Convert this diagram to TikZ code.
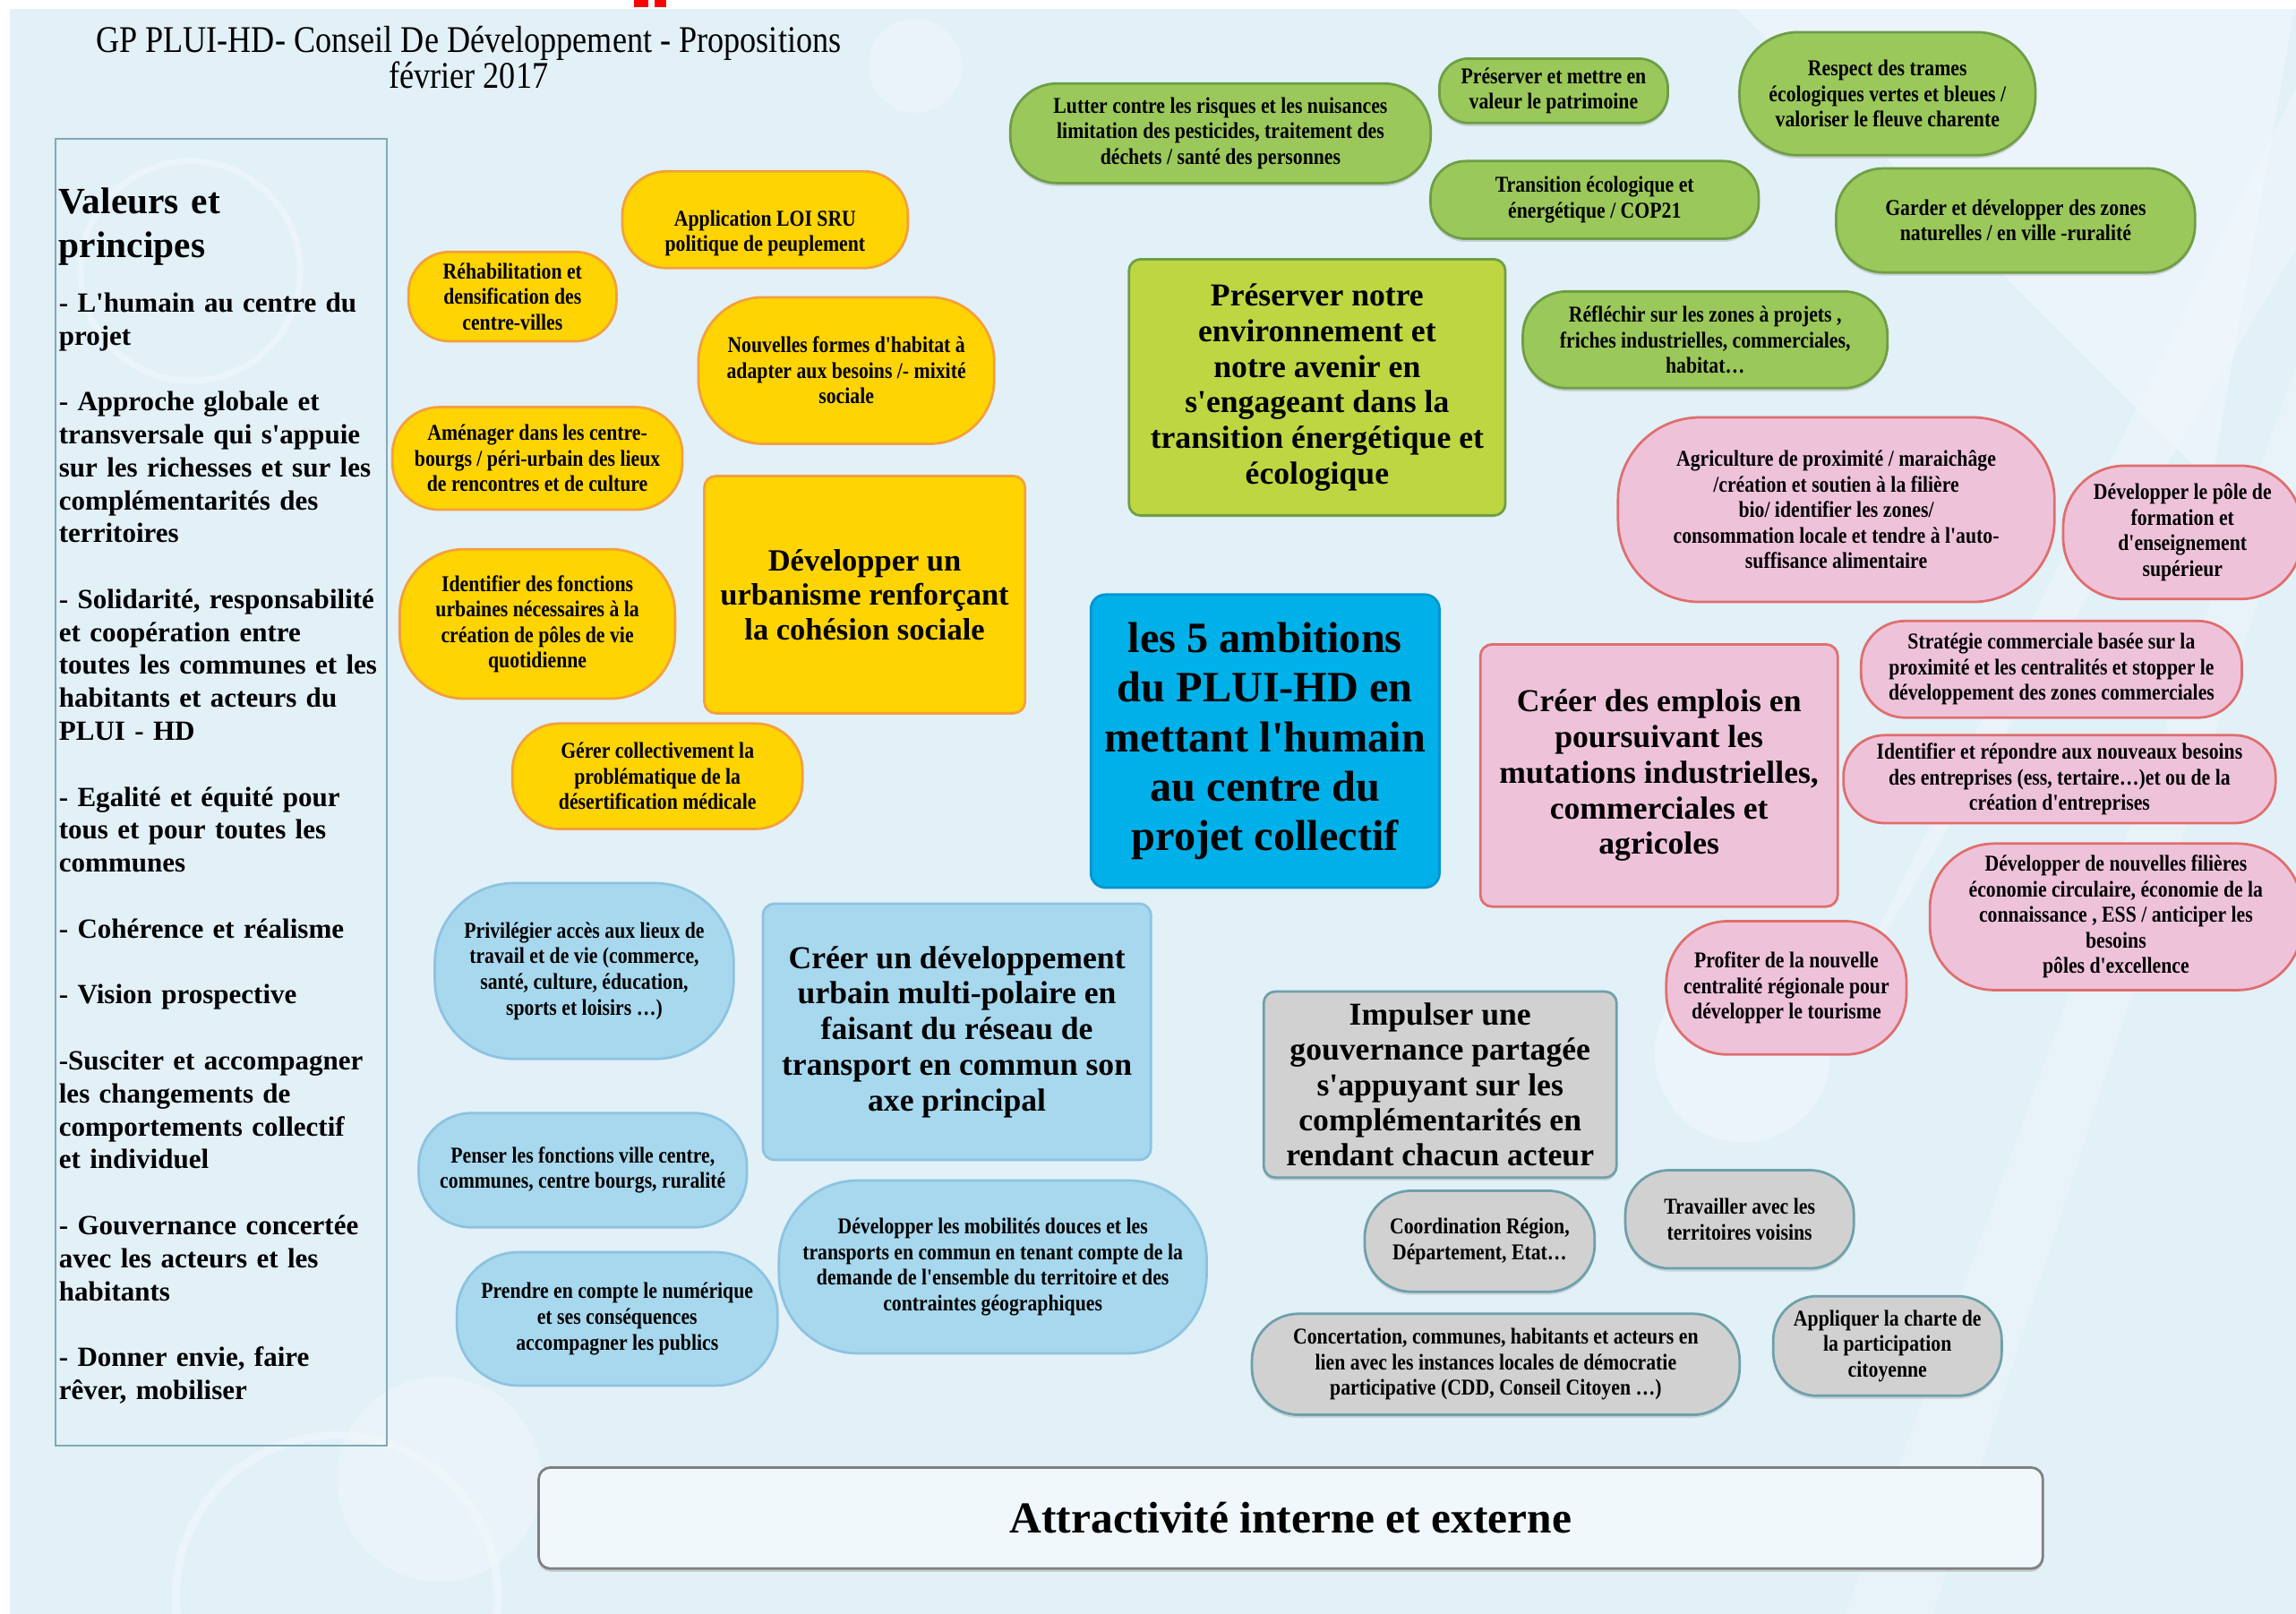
\documentclass[tikz,border=0pt]{standalone}
\usepackage{fontspec}
\setmainfont{Liberation Serif}
\newfontfamily\plainserif{Liberation Serif}
\newfontfamily\condserif[FakeStretch=0.86]{Liberation Serif}
\usetikzlibrary{shadows}

\definecolor{backblue}{HTML}{E2F0F8}
\definecolor{sunfill}{HTML}{FFD400}
\definecolor{sunline}{HTML}{F5A03C}
\definecolor{leaffill}{HTML}{9BC85A}
\definecolor{leafline}{HTML}{6E9E46}
\definecolor{limefill}{HTML}{BED641}
\definecolor{corefill}{HTML}{00B0E8}
\definecolor{coreline}{HTML}{0096D2}
\definecolor{rosefill}{HTML}{EEC3DA}
\definecolor{roseline}{HTML}{E06E6E}
\definecolor{skyfill}{HTML}{A7D8EE}
\definecolor{skyline}{HTML}{8CC3E1}
\definecolor{stonefill}{HTML}{D1D1D1}
\definecolor{stoneline}{HTML}{6EA0AA}
\definecolor{frameline}{HTML}{7FAAB8}

\begin{document}
\begin{tikzpicture}[x=0.025cm,y=-0.025cm,
  idea/.style={inner sep=0pt, align=center, line width=1.2pt,
    font=\condserif\bfseries\fontsize{11}{12.4}\selectfont},
  ambition/.style={inner sep=0pt, align=center, line width=1.2pt, rounded corners=2mm,
    font=\plainserif\bfseries\fontsize{15.5}{17.3}\selectfont},
  size/.style 2 args={minimum width=#1mm, minimum height=#2mm},
  sun/.style={draw=sunline, fill=sunfill},
  leaf/.style={draw=leafline, fill=leaffill,
    drop shadow={shadow xshift=0pt, shadow yshift=-1.5pt, opacity=.3}},
  rose/.style={draw=roseline, fill=rosefill},
  sky/.style={draw=skyline, fill=skyfill},
  stone/.style={draw=stoneline, fill=stonefill,
    drop shadow={shadow xshift=0pt, shadow yshift=-1.5pt, opacity=.25}},
]
%\draw[color=gray!20,step=100] (0,0) grid (1568,1102);
\useasboundingbox (0,0) rectangle (1568,1102);

% background
\fill[white] (0,0) rectangle (1568,1102);
\fill[backblue] (7,6) rectangle (1568,1102);
\fill[white, opacity=.3] (1568,0) -- (1180,0) -- (1510,330) -- cycle;
\fill[white, opacity=.25] (1568,60) -- (1568,170) -- (1250,700) -- cycle;
\fill[white, opacity=.2] (1568,250) -- (1568,330) -- (1320,1102) -- (1260,1102) -- cycle;
\draw[white, line width=3pt, opacity=.3] (130,185) circle (75);
\fill[white, opacity=.25] (625,45) circle (32);
\fill[white, opacity=.25] (300,1010) circle (70);
\draw[white, line width=4pt, opacity=.3] (230,1090) circle (110);
\fill[white, opacity=.3] (1190,720) circle (60);

\fill[red] (433,0) rectangle (443,5);
\fill[red] (447,0) rectangle (455,5);

\node[align=center, font=\condserif\fontsize{18.3}{17.5}\selectfont] (titre) at (320,39)
  {GP PLUI-HD- Conseil De Développement - Propositions\\février 2017};

% valeurs et principes
\draw[frameline, line width=1pt] (38,95) rectangle (264,987);
\node[anchor=base west, inner sep=0pt, text width=62mm, align=left,
  font=\plainserif\bfseries\fontsize{18}{21}\selectfont] (valeurs) at (40,146) {Valeurs et\\principes};
\node[anchor=base west, inner sep=0pt, text width=62mm, align=left,
  font=\plainserif\bfseries\fontsize{13.5}{16}\selectfont] (principes) at (40,213)
  {- L'humain au centre du\\projet\\[16pt]
   - Approche globale et\\transversale qui s'appuie\\sur les richesses et sur les\\complémentarités des\\territoires\\[16pt]
   - Solidarité, responsabilité\\et coopération entre\\toutes les communes et les\\habitants et acteurs du\\PLUI - HD\\[16pt]
   - Egalité et équité pour\\tous et pour toutes les\\communes\\[16pt]
   - Cohérence et réalisme\\[16pt]
   - Vision prospective\\[16pt]
   -Susciter et accompagner\\les changements de\\comportements collectif\\et individuel\\[16pt]
   - Gouvernance concertée\\avec les acteurs et les\\habitants\\[16pt]
   - Donner envie, faire\\rêver, mobiliser};

% cohesion sociale
\node[idea, sun, rounded corners=7.5mm, size={48.75}{16.5}] (sru) at (522.5,150) {\rule{0pt}{21pt}Application LOI SRU\\politique de peuplement};
\node[idea, sun, rounded corners=7mm, size={35.5}{15.25}] (rehab) at (350,202.5) {Réhabilitation et\\densification des\\centre-villes};
\node[idea, sun, rounded corners=11mm, size={50.5}{25}] (habitat) at (578,253) {Nouvelles formes d'habitat à\\adapter aux besoins /- mixité\\sociale};
\node[idea, sun, rounded corners=8mm, size={49.5}{17.5}] (amenager) at (367,313) {Aménager dans les centre-\\bourgs / péri-urbain des lieux\\de rencontres et de culture};
\node[ambition, sun, size={54.75}{40.5}, font=\plainserif\bfseries\fontsize{15}{16.7}\selectfont] (cohesion) at (590.5,406) {Développer un\\urbanisme renforçant\\la cohésion sociale};
\node[idea, sun, rounded corners=11mm, size={47}{25.5}] (fonctions) at (367,426) {Identifier des fonctions\\urbaines nécessaires à la\\création de pôles de vie\\quotidienne};
\node[idea, sun, rounded corners=8mm, size={49.5}{18}] (medical) at (449,530) {Gérer collectivement la\\problématique de la\\désertification médicale};

% environnement
\node[idea, leaf, rounded corners=8mm, size={71.75}{17}] (nuisances) at (833.5,91) {Lutter contre les risques et les nuisances\\limitation des pesticides, traitement des\\déchets / santé des personnes};
\node[idea, leaf, rounded corners=5mm, size={39}{11}] (patrimoine) at (1061,62) {Préserver et mettre en\\valeur le patrimoine};
\node[idea, leaf, rounded corners=10mm, size={50.5}{21}] (trames) at (1289,64) {Respect des trames\\écologiques vertes et bleues /\\valoriser le fleuve charente};
\node[idea, leaf, rounded corners=6mm, size={56}{13.25}] (cop) at (1089,136.5) {Transition écologique et\\énergétique / COP21};
\node[idea, leaf, rounded corners=8mm, size={61.25}{17.75}] (naturelles) at (1376.5,150.5) {Garder et développer des zones\\naturelles / en ville -ruralité};
\node[ambition, draw=leafline, fill=limefill, size={64.25}{43.75}] (environnement) at (899.5,264.5) {Préserver notre\\environnement et\\notre avenir en\\s'engageant dans la\\transition énergétique et\\écologique};
\node[idea, leaf, rounded corners=7.5mm, size={62.25}{16.5}] (friches) at (1164.5,232) {Réfléchir sur les zones à projets ,\\friches industrielles, commerciales,\\habitat…};

% centre
\node[ambition, draw=coreline, fill=corefill, rounded corners=2.5mm, size={59.5}{50},
  font=\plainserif\bfseries\fontsize{21}{24}\selectfont] (ambitions) at (864,506) {les 5 ambitions\\du PLUI-HD en\\mettant l'humain\\au centre du\\projet collectif};

% emplois
\node[idea, rose, rounded corners=14mm, size={74.5}{31.5}] (agri) at (1254,348) {Agriculture de proximité / maraichâge\\/création et soutien à la  filière\\bio/ identifier les zones/\\consommation locale et  tendre à l'auto-\\suffisance alimentaire};
\node[idea, rose, rounded corners=10.5mm, size={40.75}{22.75}] (formation) at (1490.5,363.5) {Développer le pôle de\\formation et\\d'enseignement\\supérieur};
\node[ambition, rose, size={61}{44.75}] (emplois) at (1133,529.5) {Créer des emplois en\\poursuivant les\\mutations industrielles,\\commerciales et\\agricoles};
\node[idea, rose, rounded corners=7.5mm, size={65}{16.5}] (strategie) at (1401,457) {Stratégie commerciale basée sur la\\proximité et les centralités et stopper le\\développement des zones commerciales};
\node[idea, rose, rounded corners=7mm, size={73.75}{15}] (besoins) at (1406.5,532) {Identifier et répondre aux nouveaux besoins\\des entreprises (ess, tertaire…)et ou de la\\création d'entreprises};
\node[idea, rose, rounded corners=11mm, size={63.5}{25}] (filieres) at (1445,626) {Développer de nouvelles filières\\économie circulaire, économie de la\\connaissance , ESS / anticiper les\\besoins\\pôles d'excellence};
\node[idea, rose, rounded corners=10.5mm, size={41}{22.75}] (tourisme) at (1220,674.5) {Profiter de la nouvelle\\centralité régionale pour\\développer le tourisme};

% transport
\node[idea, sky, rounded corners=13.5mm, size={51}{30}] (acces) at (399,663) {Privilégier accès aux lieux de\\travail et de vie (commerce,\\santé, culture, éducation,\\sports et loisirs …)};
\node[ambition, sky, size={66.25}{43.75}] (reseau) at (653.5,704.5) {Créer un développement\\urbain multi-polaire  en\\faisant du réseau de\\transport en commun son\\axe principal};
\node[idea, sky, rounded corners=9mm, size={56}{19.5}] (penser) at (398,799) {Penser les fonctions ville centre,\\communes, centre bourgs, ruralité};
\node[idea, sky, rounded corners=13.5mm, size={73}{29.5}] (mobilites) at (678,865) {Développer les mobilités douces et les\\transports en commun en tenant compte de la\\demande de l'ensemble du territoire et des\\contraintes géographiques};
\node[idea, sky, rounded corners=10.5mm, size={54.75}{22.75}] (numerique) at (421.5,900.5) {Prendre en compte le numérique\\et ses conséquences\\accompagner les publics};

% gouvernance
\node[ambition, stone, size={60.25}{31.75}, font=\plainserif\bfseries\fontsize{15.5}{17.1}\selectfont] (gouvernance) at (983.5,740.5) {Impulser une\\gouvernance partagée\\s'appuyant sur les\\complémentarités en\\rendant chacun acteur};
\node[idea, stone, rounded corners=8mm, size={39.25}{17.25}] (coord) at (1010.5,847.5) {Coordination Région,\\Département, Etat…};
\node[idea, stone, rounded corners=7.5mm, size={39}{16.75}] (voisins) at (1188,832.5) {Travailler avec les\\territoires voisins};
\node[idea, stone, rounded corners=8mm, size={83.25}{17.25}] (concertation) at (1021.5,931.5) {Concertation, communes, habitants et acteurs en\\lien avec les instances locales de démocratie\\participative (CDD, Conseil Citoyen …)};
\node[idea, stone, rounded corners=7.5mm, size={39}{17}] (charte) at (1289,919) {Appliquer la charte de\\la participation\\citoyenne};

% attractivite
\node[inner sep=0pt, draw=gray, fill=backblue!50!white, line width=1.2pt, rounded corners=2mm,
  drop shadow={shadow xshift=0pt, shadow yshift=-1.5pt, opacity=.3}, size={256.75}{17.25},
  font=\plainserif\bfseries\fontsize{21.5}{24}\selectfont] (attractivite) at (881.5,1036.5) {Attractivité interne  et externe};
\end{tikzpicture}
\end{document}
